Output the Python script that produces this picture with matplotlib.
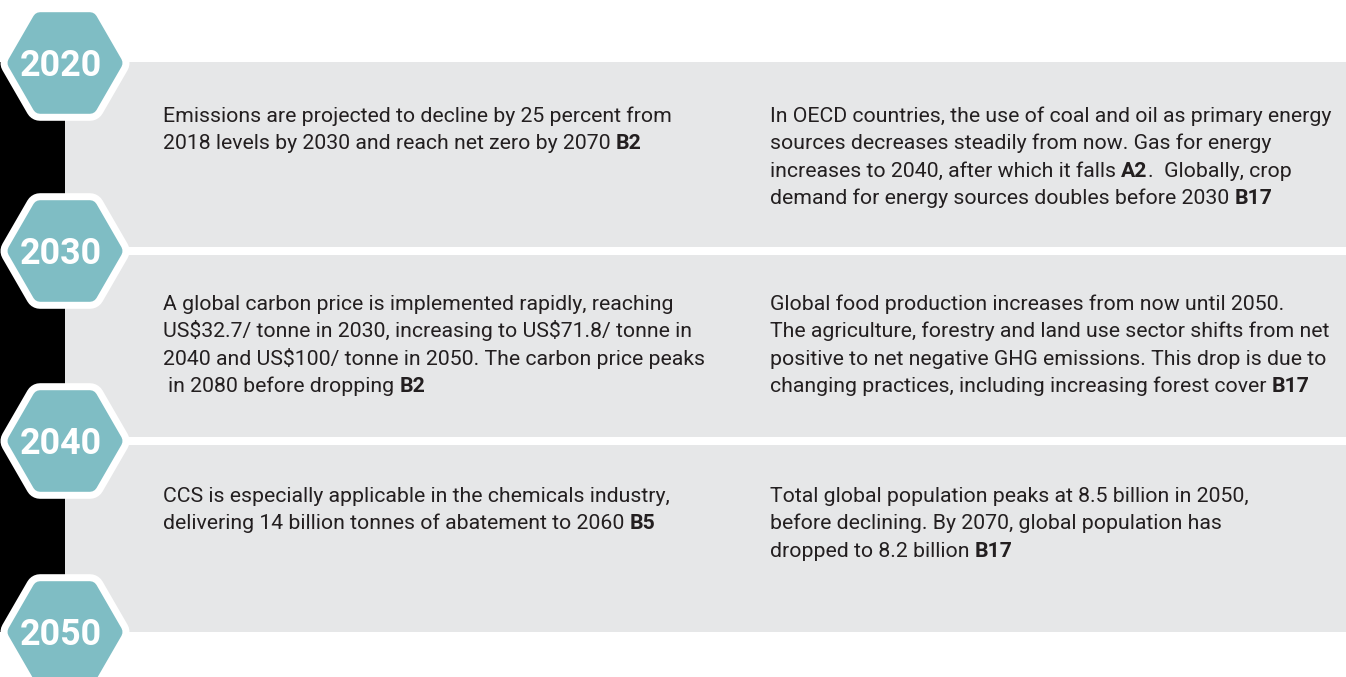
import matplotlib
matplotlib.use("Agg")
import matplotlib.pyplot as plt
from matplotlib import font_manager as fm
from matplotlib.patches import RegularPolygon
import numpy as np

# ---------------- data ----------------
years = ["2020", "2030", "2040", "2050"]

left_texts = [
    ["Emissions are projected to decline by 25 percent from",
     "2018 levels by 2030 and reach net zero by 2070 **B2**"],
    ["A global carbon price is implemented rapidly, reaching",
     "US$32.7/ tonne in 2030, increasing to US$71.8/ tonne in",
     "2040 and US$100/ tonne in 2050. The carbon price peaks",
     " in 2080 before dropping **B2**"],
    ["CCS is especially applicable in the chemicals industry,",
     "delivering 14 billion tonnes of abatement to 2060 **B5**"],
]

right_texts = [
    ["In OECD countries, the use of coal and oil as primary energy",
     "sources decreases steadily from now. Gas for energy",
     "increases to 2040, after which it falls **A2**.  Globally, crop",
     "demand for energy sources doubles before 2030 **B17**"],
    ["Global food production increases from now until 2050.",
     "The agriculture, forestry and land use sector shifts from net",
     "positive to net negative GHG emissions. This drop is due to",
     "changing practices, including increasing forest cover **B17**"],
    ["Total global population peaks at 8.5 billion in 2050,",
     "before declining. By 2070, global population has",
     "dropped to 8.2 billion **B17**"],
]

# ---------------- layout / style ----------------
W, H, DPI = 1346, 677, 100
GREY = "#e6e7e8"
TEAL = "#7fbdc4"
INK = "#231f20"
BAR_X0 = 65
HEX_X = 65
HEX_Y = [63, 251, 441, 632]
GAP = 8
ROW_TOP, ROW_BOTTOM = 62, 632
TEXT_Y = [122, 310, 502]
COL_X = [163, 770]
LINE_H = 27.4

names = {f.name for f in fm.fontManager.ttflist}
FONT = "DejaVu Sans"
for cand in ["Liberation Sans Narrow", "Roboto", "Lato", "Open Sans", "Noto Sans"]:
    if cand in names:
        FONT = cand
        break

fig = plt.figure(figsize=(W / DPI, H / DPI), dpi=DPI)
ax = fig.add_axes([0, 0, 1, 1])
ax.set_xlim(0, W)
ax.set_ylim(H, 0)
ax.axis("off")
renderer = fig.canvas.get_renderer()


def px2pt(px):
    return px * 72.0 / DPI


def text_width(s, weight, size):
    t = ax.text(0, 0, s, fontsize=size, fontweight=weight, family=FONT,
                parse_math=False)
    w = t.get_window_extent(renderer).width
    t.remove()
    return w


# fit body font size to the measured width of a reference line
ref_w = text_width(left_texts[0][0], "normal", 10)
BODY = 10 * 509.0 / ref_w
ref_y = text_width("2020", "bold", 10)
YEAR = 10 * 82.0 / ref_y
SPACE = {wt: text_width("n n", wt, BODY) - text_width("nn", wt, BODY) for wt in ("normal", "bold")}

# black spine
ax.barh(y=(ROW_TOP + ROW_BOTTOM) / 2, width=BAR_X0, left=0,
        height=ROW_BOTTOM - ROW_TOP, color="black", zorder=1)

# grey rows
n_rows = len(HEX_Y) - 1
for i in range(n_rows):
    top = ROW_TOP if i == 0 else HEX_Y[i] + GAP / 2
    bot = ROW_BOTTOM if i == n_rows - 1 else HEX_Y[i + 1] - GAP / 2
    ax.barh(y=(top + bot) / 2, width=W - BAR_X0, left=BAR_X0,
            height=bot - top, color=GREY, zorder=1)

# hexagons
for yr, cy in zip(years, HEX_Y):
    ax.add_patch(RegularPolygon((HEX_X, cy), 6, radius=50, orientation=np.pi / 6,
                                fc="white", ec="white", lw=px2pt(29),
                                joinstyle="round", zorder=3))
    ax.add_patch(RegularPolygon((HEX_X, cy), 6, radius=50, orientation=np.pi / 6,
                                fc=TEAL, ec=TEAL, lw=px2pt(15),
                                joinstyle="round", zorder=4))
    ax.text(HEX_X - 4, cy + 13, yr, color="white", fontsize=YEAR, fontweight="bold",
            family=FONT, ha="center", va="baseline", zorder=5, parse_math=False)


def draw_line(x0, y, line):
    parts = line.split("**")
    x = x0
    for k, seg in enumerate(parts):
        if not seg:
            continue
        wt = "bold" if k % 2 == 1 else "normal"
        lead = len(seg) - len(seg.lstrip(" "))
        trail = len(seg) - len(seg.rstrip(" "))
        core = seg.strip(" ")
        x += lead * SPACE[wt]
        if core:
            ax.text(x, y, core, fontsize=BODY, fontweight=wt, family=FONT,
                    color=INK, ha="left", va="baseline", zorder=6,
                    parse_math=False)
            x += text_width(core, wt, BODY)
        x += trail * SPACE[wt]


for i in range(n_rows):
    for cx, block in zip(COL_X, (left_texts[i], right_texts[i])):
        for j, line in enumerate(block):
            draw_line(cx, TEXT_Y[i] + j * LINE_H, line)

fig.savefig("out.png", dpi=DPI)
